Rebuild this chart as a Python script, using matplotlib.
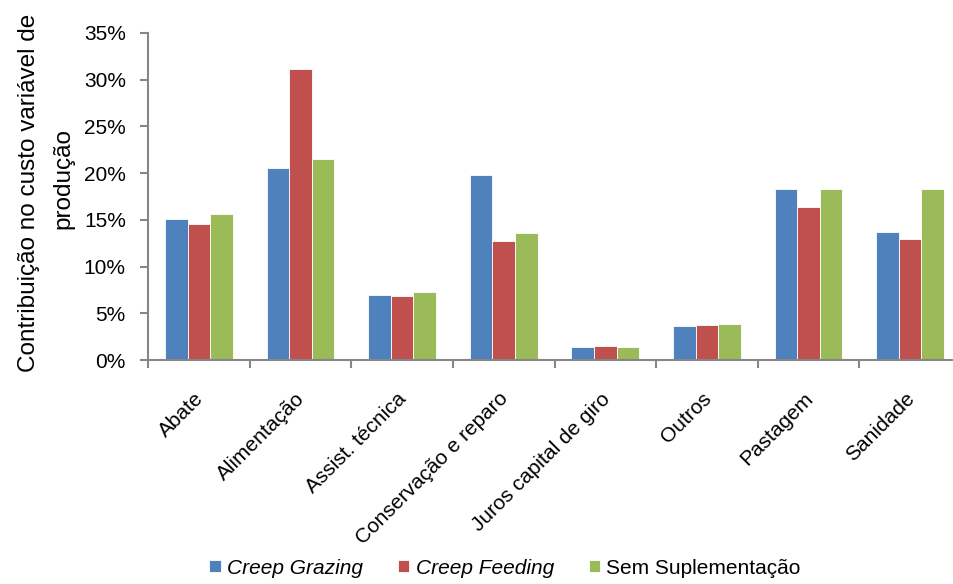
import numpy as np
import matplotlib
matplotlib.use("Agg")
import matplotlib.pyplot as plt
from matplotlib.ticker import FuncFormatter

plt.rcParams['font.family'] = ['Liberation Sans', 'DejaVu Sans']

categorias = ['Abate', 'Alimentação', 'Assist. técnica', 'Conservação e reparo',
              'Juros capital de giro', 'Outros', 'Pastagem', 'Sanidade']
creep_grazing = [15.1, 20.6, 7.0, 19.8, 1.4, 3.6, 18.35, 13.75]
creep_feeding = [14.6, 31.1, 6.8, 12.7, 1.5, 3.7, 16.4, 12.9]
sem_suplementacao = [15.6, 21.5, 7.3, 13.6, 1.4, 3.8, 18.25, 18.25]

series = ['Creep Grazing', 'Creep Feeding', 'Sem Suplementação']
cores = ['#4F81BD', '#C0504D', '#9BBB59']

fig = plt.figure(figsize=(9.54, 5.84), dpi=100)
ax = fig.add_axes([148 / 954, 1 - 360 / 584, 813 / 954, 327 / 584])

x = np.arange(len(categorias))
w = 0.222
for i, (vals, cor, nome) in enumerate(zip([creep_grazing, creep_feeding, sem_suplementacao], cores, series)):
    ax.bar(x + (i - 1) * w, vals, w, color=cor, edgecolor='white', linewidth=0.6, label=nome)

ax.set_xlim(-0.5, len(categorias) - 0.5)
ax.set_ylim(0, 35)
ax.set_yticks(np.arange(0, 36, 5))
ax.yaxis.set_major_formatter(FuncFormatter(lambda v, p: f'{v:.0f}%'))

# ticks da categoria ficam nas divisas entre os grupos; rótulos levemente à esquerda do centro
ax.set_xticks(np.arange(-0.5, len(categorias), 1.0))
ax.set_xticklabels([])
ax.set_xticks(x - 0.05, minor=True)
ax.set_xticklabels(categorias, minor=True, rotation=45, ha='right',
                   rotation_mode='anchor', fontsize=15)
ax.tick_params(axis='x', which='minor', length=0, pad=21)
ax.tick_params(axis='x', which='major', length=6, width=1.5, color='#868686', direction='out')
ax.tick_params(axis='y', length=6, width=1.5, color='#868686', labelsize=15, pad=10)

for s in ['top', 'right']:
    ax.spines[s].set_visible(False)
for s in ['left', 'bottom']:
    ax.spines[s].set_color('#868686')
    ax.spines[s].set_linewidth(1.5)

# título do eixo em duas linhas, a segunda um pouco acima do centro da primeira
ax.set_ylabel('Contribuição no custo variável de', fontsize=17.5)
ax.yaxis.set_label_coords((40 - 148) / 813, (360 - 193) / 327)
fig.text(74 / 954, 1 - 179 / 584, 'produção', rotation=90, ha='right', va='center',
         fontsize=17.5)

leg = fig.legend(loc='center', bbox_to_anchor=(505 / 954, 1 - 568 / 584), ncol=3,
                 frameon=False, fontsize=15, handlelength=0.55, handleheight=0.55,
                 handletextpad=0.3, columnspacing=1.67)
for t in leg.get_texts()[:2]:
    t.set_style('italic')

fig.savefig('out.png', dpi=100)
